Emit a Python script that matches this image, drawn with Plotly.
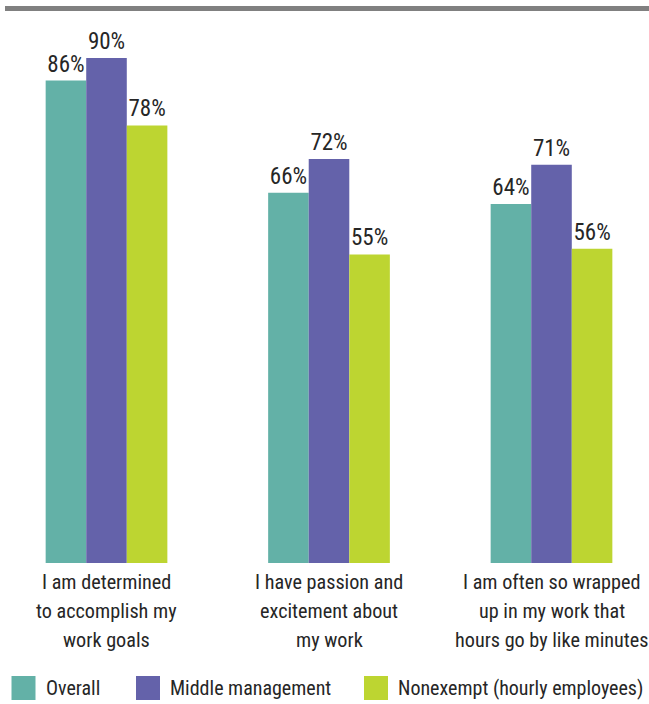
import plotly.graph_objects as go

categories = [
    "I am determined<br>to accomplish my<br>work goals",
    "I have passion and<br>excitement about<br>my work",
    "I am often so wrapped<br>up in my work that<br>hours go by like minutes",
]
series_names = ["Overall", "Middle management", "Nonexempt (hourly employees)"]
overall = [86, 66, 64]
middle = [90, 72, 71]
nonexempt = [78, 55, 56]
colors = ["#63B1A7", "#6462AA", "#BDD531"]

FONT = "Roboto Condensed, Liberation Sans, sans-serif"
TXT = "#262626"

fig = go.Figure()
for name, vals, col in zip(series_names, [overall, middle, nonexempt], colors):
    fig.add_trace(go.Bar(
        x=categories, y=vals, name=name, marker=dict(color=col, line=dict(width=0)),
        text=[f"{v}%" for v in vals], textposition="outside",
        textfont=dict(family=FONT, size=23, color=TXT), cliponaxis=False,
        showlegend=False,
    ))

W, H = 649, 704
mt, mb = 20, 141
ph = H - mt - mb
fig.update_layout(
    width=W, height=H, barmode="group", bargap=0.453, bargroupgap=0,
    margin=dict(l=0, r=0, t=mt, b=mb),
    plot_bgcolor="white", paper_bgcolor="white",
    font=dict(family=FONT, size=21, color=TXT),
    xaxis=dict(range=[-0.4787, 2.4382], showgrid=False, zeroline=False, showline=False,
               ticks="", showticklabels=False),
    yaxis=dict(range=[0, ph / 5.61], visible=False),
)

# category labels, one annotation per line for reference line spacing
for cat in categories:
    for j, line in enumerate(cat.split("<br>")):
        fig.add_annotation(x=cat, xref="x", y=0, yref="y", text=line, showarrow=False,
                           xanchor="center", yanchor="middle", yshift=-(19 + 29 * j),
                           borderpad=0, font=dict(family=FONT, size=20.2, color=TXT))

# top gray rule
fig.add_shape(type="line", xref="paper", yref="paper", x0=5 / W, x1=1,
              y0=1 + (mt - 8.5) / ph, y1=1 + (mt - 8.5) / ph,
              line=dict(color="#808080", width=5))

# custom legend (large square swatches)
sw_x = [11.5, 136, 364]
sw = 24
yc = 688
for name, col, x0 in zip(series_names, colors, sw_x):
    fig.add_shape(type="rect", xref="paper", yref="paper",
                  x0=x0 / W, x1=(x0 + sw) / W,
                  y0=-(yc + sw / 2 - mt - ph) / ph, y1=-(yc - sw / 2 - mt - ph) / ph,
                  fillcolor=col, line=dict(width=0))
    fig.add_annotation(xref="paper", yref="paper", x=(x0 + sw + 9) / W,
                       y=-(yc - mt - ph) / ph, text=name, showarrow=False,
                       xanchor="left", yanchor="middle", borderpad=0,
                       font=dict(family=FONT, size=20, color=TXT))

fig.write_html("out.html", config={"displayModeBar": False},
               post_script="document.body.style.margin='0';document.body.style.overflow='hidden';")
